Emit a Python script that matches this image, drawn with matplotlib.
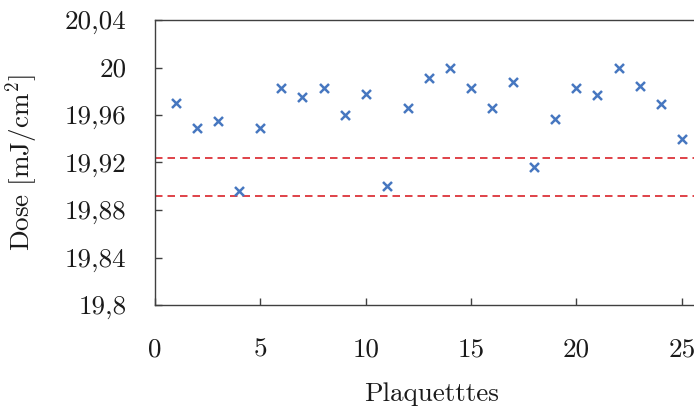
import matplotlib
matplotlib.use("Agg")
import matplotlib.pyplot as plt

plt.rcParams['font.family'] = 'serif'
plt.rcParams['font.serif'] = ['cmr10', 'DejaVu Serif']
plt.rcParams['mathtext.fontset'] = 'cm'
plt.rcParams['axes.unicode_minus'] = False

plaquettes = list(range(1, 26))
doses = [19.970, 19.949, 19.955, 19.896, 19.949, 19.983, 19.975, 19.983, 19.960, 19.978,
         19.900, 19.966, 19.991, 20.000, 19.983, 19.966, 19.9875, 19.916, 19.957, 19.983,
         19.977, 20.000, 19.984, 19.969, 19.9395]
limits = [19.9238, 19.8918]

y_ticks = [19.80, 19.84, 19.88, 19.92, 19.96, 20.00, 20.04]
y_tick_labels = ["19,8", "19,84", "19,88", "19,92", "19,96", "20", "20,04"]
x_ticks = [0, 5, 10, 15, 20, 25]
x_tick_labels = ["0", "5", "10", "15", "20", "25"]

fs = 19.5

fig = plt.figure(figsize=(6.94, 4.07), dpi=100)
ax = fig.add_axes([155/694, 1 - 305/407, 1 - 155/694 + 0.02, 285/407])

for lim in limits:
    ax.axhline(lim, color='#d9232a', lw=1.2, dashes=(4.5, 3))

ax.scatter(plaquettes, doses, marker='x', s=42, color='#4677c0', linewidths=1.8, zorder=3)

ax.set_xlim(0, 25.58 * (1 + 0.02 / (1 - 155/694)))
ax.set_ylim(19.8, 20.04)
ax.set_yticks(y_ticks)
ax.set_yticklabels(y_tick_labels)
ax.set_xticks(x_ticks)
ax.set_xticklabels(x_tick_labels)

for s in ['left', 'bottom', 'top']:
    ax.spines[s].set_color('#404040')
    ax.spines[s].set_linewidth(1.0)
ax.spines['right'].set_visible(False)

ax.tick_params(axis='both', direction='in', length=5, width=1, color='#404040',
               labelsize=fs, labelcolor='#1a1a1a')
ax.tick_params(axis='y', pad=20.5)
ax.tick_params(axis='x', pad=23.5)

ax.set_xlabel('Plaquetttes', fontsize=fs, color='#1a1a1a', labelpad=15)
ax.set_ylabel(r'Dose [mJ/cm$^2$]', fontsize=fs, color='#1a1a1a', labelpad=18)

fig.savefig('out.png', dpi=100)
